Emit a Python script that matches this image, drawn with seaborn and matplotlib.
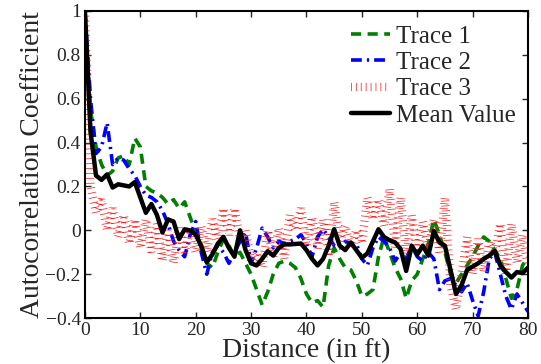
import numpy as np
import pandas as pd
import matplotlib
matplotlib.use("Agg")
import matplotlib.pyplot as plt
import seaborn as sns

# jarak (ft) dan nilai autokorelasi tiap trace
distance = list(range(0, 81))

trace1 = [1.0, 0.55, 0.38, 0.3, 0.25, 0.27, 0.33, 0.34, 0.3, 0.42,
          0.38, 0.2, 0.18, 0.17, 0.15, 0.12, 0.14, 0.1, 0.13, 0.06,
          -0.01, -0.08, -0.15, -0.17, -0.1, -0.04, -0.07, -0.12, -0.1, -0.15,
          -0.2, -0.27, -0.34, -0.28, -0.2, -0.15, -0.14, -0.15, -0.17, -0.22,
          -0.29, -0.33, -0.32, -0.35, -0.16, -0.08, -0.13, -0.17, -0.18, -0.23,
          -0.3, -0.29, -0.27, -0.12, -0.03, -0.1, -0.17, -0.22, -0.31, -0.23,
          -0.2, -0.13, -0.06, 0.05, -0.02, -0.1, -0.2, -0.24, -0.2, -0.16,
          -0.12, -0.07, -0.03, -0.05, -0.09, -0.13, -0.22, -0.31, -0.27, -0.16,
          -0.12]

trace2 = [1.0, 0.6, 0.35, 0.38, 0.49, 0.3, 0.33, 0.32, 0.28, 0.25,
          0.2, 0.16, 0.15, 0.13, 0.09, 0.03, -0.05, -0.09, -0.12, -0.02,
          0.04, -0.1, -0.2, -0.1, -0.07, -0.1, -0.15, -0.1, -0.05, -0.01,
          -0.15, -0.08, 0.01, -0.03, -0.08, -0.05, -0.06, -0.05, -0.04, -0.02,
          -0.06, -0.12, -0.03, 0.005, -0.03, -0.07, -0.08, -0.05, -0.06, -0.06,
          -0.13, -0.16, -0.08, -0.03, -0.05, -0.08, -0.14, -0.1, -0.13, -0.07,
          -0.12, -0.14, -0.1, -0.13, -0.27, -0.23, -0.22, -0.25, -0.28, -0.24,
          -0.32, -0.39, -0.28, -0.13, -0.1, -0.2, -0.3, -0.36, -0.29, -0.33,
          -0.37]

trace3 = [1.0, 0.2, 0.08, 0.14, 0.0, 0.1, -0.03, 0.07, -0.06, 0.05,
          -0.08, 0.05, -0.1, 0.03, -0.14, 0.0, -0.15, 0.01, -0.1, 0.0,
          -0.1, 0.02, -0.1, 0.05, -0.04, 0.1, -0.02, 0.1, -0.04, 0.0,
          -0.14, -0.1, -0.17, 0.0, -0.12, 0.01, -0.13, 0.07, 0.0, 0.1,
          -0.07, 0.06, -0.08, 0.05, -0.12, 0.13, -0.05, 0.02, -0.08, 0.0,
          -0.06, 0.15, 0.05, 0.14, 0.02, 0.19, -0.08, 0.15, -0.12, 0.07,
          -0.1, 0.04, -0.08, 0.05, -0.1, 0.15, -0.25, -0.36, -0.2, -0.03,
          -0.2, -0.04, -0.19, -0.05, -0.1, 0.03, -0.2, 0.03, -0.15, -0.02,
          -0.17]

mean_value = [1.0, 0.45, 0.25, 0.23, 0.255, 0.195, 0.21, 0.205, 0.2, 0.22,
              0.15, 0.08, 0.12, 0.07, -0.01, 0.05, 0.04, -0.04, 0.005, 0.0,
              -0.02, -0.07, -0.145, -0.11, -0.06, -0.03, -0.08, -0.12, 0.0, -0.09,
              -0.15, -0.16, -0.13, -0.095, -0.115, -0.08, -0.064, -0.064, -0.062, -0.06,
              -0.09, -0.13, -0.16, -0.13, -0.07, 0.005, -0.07, -0.09, -0.055, -0.09,
              -0.125, -0.105, -0.05, 0.005, -0.03, -0.045, -0.055, -0.085, -0.185, -0.07,
              -0.11, -0.07, -0.115, -0.003, -0.055, -0.07, -0.18, -0.29, -0.25, -0.18,
              -0.165, -0.15, -0.13, -0.115, -0.094, -0.16, -0.19, -0.215, -0.19, -0.195,
              -0.17]

x_ticks = [0, 10, 20, 30, 40, 50, 60, 70, 80]
y_ticks = [-0.4, -0.2, 0, 0.2, 0.4, 0.6, 0.8, 1]
y_tick_labels = ["\u22120.4", "\u22120.2", "0", "0.2", "0.4", "0.6", "0.8", "1"]

df = pd.DataFrame({"Distance": distance, "Trace 1": trace1, "Trace 2": trace2,
                   "Trace 3": trace3, "Mean Value": mean_value})

sns.set_style("white")
plt.rcParams["font.family"] = ["Liberation Serif", "DejaVu Serif"]

fig = plt.figure(figsize=(5.41, 3.64), dpi=100)
ax = fig.add_axes([0.157, 0.126, 0.819, 0.844])

sns.lineplot(data=df, x="Distance", y="Trace 1", ax=ax, color="#008000",
             linewidth=2.6, linestyle=(0, (2.8, 1.8)), label="Trace 1")
sns.lineplot(data=df, x="Distance", y="Trace 2", ax=ax, color="#0000ff",
             linewidth=2.6, linestyle=(0, (3, 1.4, 0.6, 1.4)), label="Trace 2")
sns.lineplot(data=df, x="Distance", y="Trace 3", ax=ax, color="#ff2020",
             linewidth=6, linestyle=(0, (0.09, 0.5)), dash_joinstyle="bevel",
             label="Trace 3")
sns.lineplot(data=df, x="Distance", y="Mean Value", ax=ax, color="black",
             linewidth=3.2, label="Mean Value")

ax.set_xlim(0, 80)
ax.set_ylim(-0.4, 1)
ax.set_xticks(x_ticks)
ax.set_xticklabels([str(t) for t in x_ticks])
ax.set_yticks(y_ticks)
ax.set_yticklabels(y_tick_labels)
ax.tick_params(direction="in", length=4, width=1, labelsize=14,
               top=True, right=True, bottom=True, left=True, pad=3)
for s in ax.spines.values():
    s.set_linewidth(1.5)
    s.set_color("black")

ax.set_xlabel("Distance (in ft)", fontsize=20, labelpad=-1)
ax.set_ylabel("Autocorrelation Coefficient", fontsize=20, labelpad=0)

ax.legend(loc="upper right", bbox_to_anchor=(1.012, 1.01), frameon=False,
          fontsize=18, handlelength=1.55, handletextpad=0.25,
          labelspacing=0.15, borderaxespad=0.3)

fig.savefig("out.png", dpi=100)
